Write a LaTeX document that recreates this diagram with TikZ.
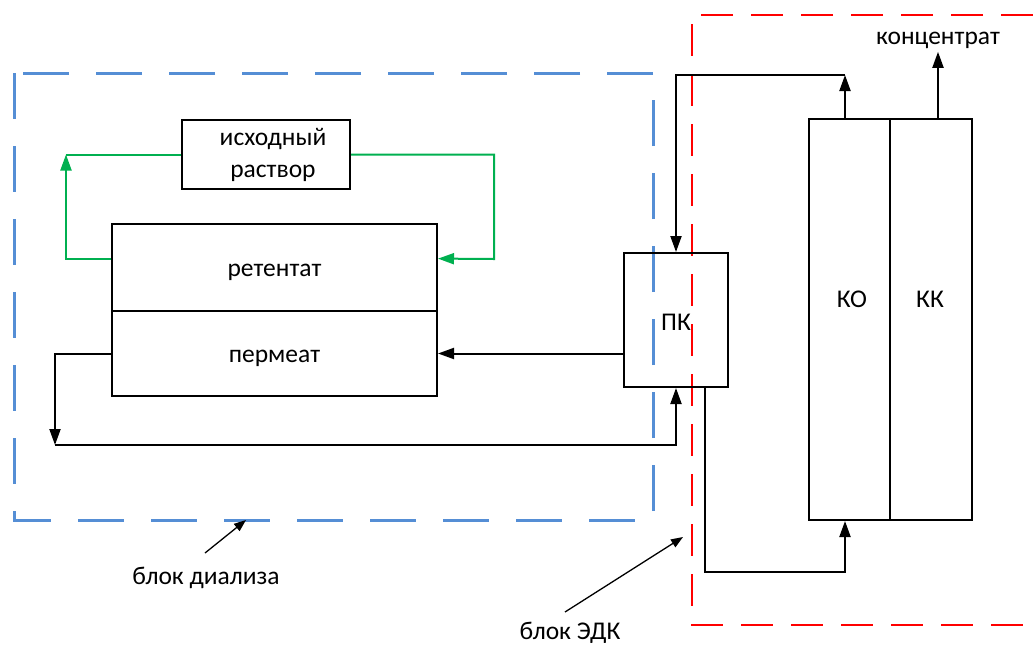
\documentclass[tikz,border=0pt]{standalone}
\usepackage{fontspec}
\setmainfont{Carlito}
\usetikzlibrary{arrows.meta,calc,positioning}

\begin{document}
\begin{tikzpicture}[x=1pt, y=-1pt]
	\tikzstyle{every node} = [rectangle, font=\fontsize{25.5}{32}\selectfont]
	\tikzstyle{box}   = [draw, line width=2pt, inner sep=0pt]
	\tikzstyle{flow}  = [line width=2pt, -{Triangle[length=16pt,width=11pt]}]
	\tikzstyle{gflow} = [draw={rgb,255:red,0;green,176;blue,80}, line width=2pt]
	\tikzstyle{pointer} = [line width=1.3pt, -{Triangle[length=12pt,width=9pt]}]
	\useasboundingbox (0,0) rectangle (1033,646);
	% frames of the two blocks
	\draw [draw={rgb,255:red,85;green,142;blue,213}, line width=3pt, dash pattern=on 46pt off 27pt]
		(14,73) rectangle (653,520);
	\draw [draw=red, line width=2pt, dash pattern=on 32pt off 18pt]
		(1033,15) -- (692,15) -- (692,625) -- (1033,625);
	% dialysis block
	\node [box, minimum width=168pt, minimum height=69pt, align=center] (src) at (266,154.5) {\hspace*{14pt}исходный\\\hspace*{14pt}раствор};
	\node [box, minimum width=325pt, minimum height=87pt] (ret)  at (274.5,267.5) {\raisebox{-5pt}[\height][\depth]{ретентат}};
	\node [box, minimum width=325pt, minimum height=85pt] (perm) at (274.5,353.5) {\raisebox{-5pt}[\height][\depth]{пермеат}};
	\node [box, minimum width=104pt, minimum height=134pt] (pk) at (676,320) {\raisebox{-2pt}[\height][\depth]{ПК}};
	% EDK block
	\node [box, minimum width=81pt, minimum height=401pt] (ko) at (849.5,319.5) {};
	\node [box, minimum width=82pt, minimum height=401pt] (kk) at (931,319.5) {};
	\node (kot) at (852,299) {КО};
	\node (kkt) at (930,299) {КК};
	\node (conc) at (938,40) {концентрат};
	\coordinate (gl) at (66,154.5);
	\coordinate (gr) at (494,259);
	\coordinate (bl) at (55,445);
	\coordinate (tr) at (845,75);
	\coordinate (br) at (845,572);
	% green loop
	\draw [gflow, -{Triangle[length=16pt,width=11pt]}] ($(ret.north west)!0.4!(ret.south west)$) -| (gl);
	\draw [gflow] (gl) -- (src.west);
	\draw [gflow, -{Triangle[length=16pt,width=11pt]}] (src.east) -| (gr) -- ($(ret.north east)!0.4!(ret.south east)$);
	% black lines
	\draw [flow] (pk.west |- perm.east) -- (perm.east);
	\draw [flow] (perm.west) -| (bl);
	\draw [flow] (bl) -| (pk.south);
	\draw [flow] (tr |- ko.north) -- (tr);
	\draw [flow] (tr) -| (pk.north);
	\draw [flow] ([xshift=29pt]pk.south) |- (br) -- (br |- ko.south);
	\draw [flow] (conc.south |- kk.north) -- (conc.south);
	% captions
	\node (bdl) at (206,578) {блок диализа};
	\node (bedk) at (570,633) {блок ЭДК};
	\coordinate (bdl-from) at (205,553);
	\coordinate (bdl-to) at (246,520);
	\coordinate (bedk-from) at (565,612);
	\coordinate (bedk-to) at (683,537);
	\draw [pointer] (bdl-from) -- (bdl-to);
	\draw [pointer] (bedk-from) -- (bedk-to);
\end{tikzpicture}
\end{document}
